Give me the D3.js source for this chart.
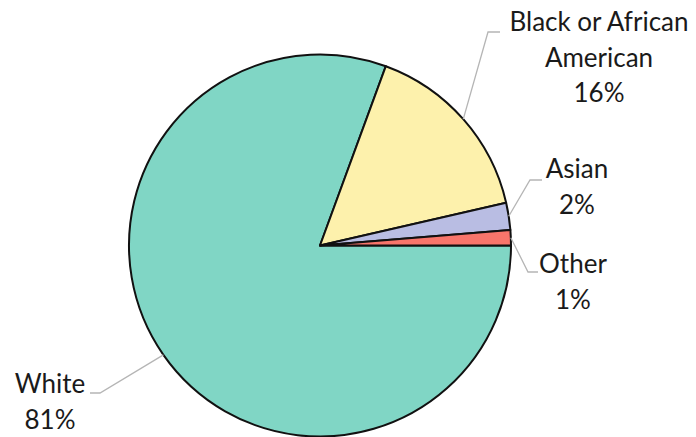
<!DOCTYPE html>
<html><head><meta charset="utf-8">
<script src="https://cdn.jsdelivr.net/npm/d3@7"></script>
<style>html,body{margin:0;padding:0;background:#fff;}svg{display:block;}</style>
</head><body>
<svg id="chart" width="696" height="437"></svg>
<script>
const categories = ["White", "Black or African American", "Asian", "Other"];
const values = [80.6, 15.8, 2.3, 1.3];
const colors = ["#80d6c5", "#fdf1ac", "#b9bde3", "#f8756b"];
const labelLines = [["White"], ["Black or African", "American"], ["Asian"], ["Other"]];

const W = 696, H = 437;
const cx = 320, cy = 245.5, R = 191;
const svg = d3.select("#chart");
const g = svg.append("g").attr("transform", `translate(${cx},${cy})`);

const pie = d3.pie().sort(null).value(d => d)
  .startAngle(Math.PI / 2).endAngle(Math.PI / 2 + 2 * Math.PI);
const arcs = pie(values);
const arc = d3.arc().innerRadius(0).outerRadius(R);

g.selectAll("path.slice").data(arcs).enter().append("path")
  .attr("class", "slice")
  .attr("d", arc)
  .attr("fill", (d, i) => colors[i])
  .attr("stroke", "#111")
  .attr("stroke-width", 2)
  .attr("stroke-linejoin", "round");

const labelPos = [
  { x: 50, y: 393, elbow: [100, 393], end: [90, 393] },
  { x: 599, y: 31, elbow: [488, 32], end: [500, 32] },
  { x: 577, y: 178, elbow: [530, 180], end: [542, 180] },
  { x: 573, y: 273, elbow: [528, 272], end: [538, 272] }
];
const lineH = 35.5;

arcs.forEach((a, i) => {
  const mid = (a.startAngle + a.endAngle) / 2;
  const px = cx + R * Math.sin(mid), py = cy - R * Math.cos(mid);
  const lp = labelPos[i];
  svg.append("polyline")
    .attr("points", [[px, py], lp.elbow, lp.end].map(p => p.join(",")).join(" "))
    .attr("fill", "none")
    .attr("stroke", "#b5b5b5")
    .attr("stroke-width", 1.3);
  const t = svg.append("text")
    .attr("text-anchor", "middle")
    .attr("font-family", "Lato, 'Open Sans', sans-serif")
    .attr("font-size", 26)
    .attr("fill", "#1a1a1a");
  const lines = labelLines[i].concat([Math.round(values[i]) + "%"]);
  lines.forEach((s, k) => {
    t.append("tspan").attr("x", lp.x).attr("y", lp.y + k * lineH).text(s);
  });
});
</script>
</body></html>
